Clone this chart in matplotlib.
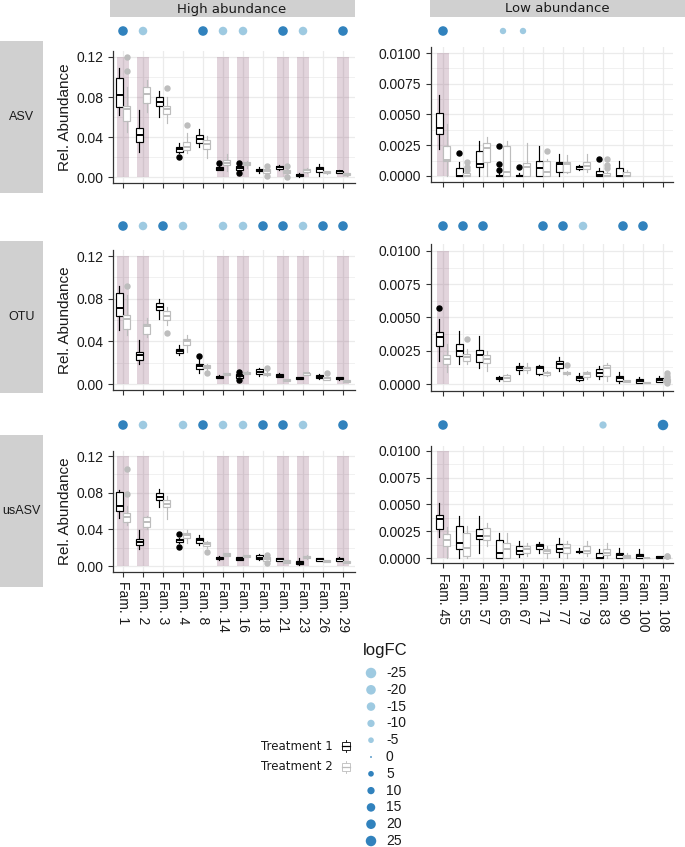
import numpy as np
import matplotlib.pyplot as plt
from matplotlib.patches import Rectangle
from matplotlib.ticker import FormatStrFormatter, MultipleLocator

# Categories
HIGH_FAMS = ["Fam. 1", "Fam. 2", "Fam. 3", "Fam. 4", "Fam. 8", "Fam. 14",
             "Fam. 16", "Fam. 18", "Fam. 21", "Fam. 23", "Fam. 26", "Fam. 29"]
LOW_FAMS = ["Fam. 45", "Fam. 55", "Fam. 57", "Fam. 65", "Fam. 67", "Fam. 71",
            "Fam. 77", "Fam. 79", "Fam. 83", "Fam. 90", "Fam. 100", "Fam. 108"]
ROW_NAMES = ["ASV", "OTU", "usASV"]

# Shaded families (same in every row)
HIGH_SHADED = ["Fam. 1", "Fam. 2", "Fam. 14", "Fam. 16", "Fam. 21", "Fam. 23", "Fam. 29"]
LOW_SHADED = ["Fam. 45"]
HIGH_SHADE_TOP = 0.12
LOW_SHADE_TOP = 0.01

# Box stats: (whisker low, q1, median, q3, whisker high), None = nothing drawn
ASV_HIGH_T1 = [(0.062, 0.070, 0.082, 0.099, 0.109), (0.025, 0.035, 0.042, 0.049, 0.067),
               (0.060, 0.071, 0.075, 0.080, 0.086), (0.024, 0.025, 0.0275, 0.0295, 0.034),
               (0.0295, 0.034, 0.0375, 0.042, 0.048), (0.0070, 0.0074, 0.0084, 0.0100, 0.011),
               (0.0065, 0.0074, 0.009, 0.011, 0.012), (0.004, 0.006, 0.0074, 0.0084, 0.010),
               (0.0075, 0.0084, 0.010, 0.0112, 0.012), (0.0003, 0.0007, 0.0017, 0.0030, 0.0040),
               (0.0007, 0.005, 0.0077, 0.010, 0.0127), (0.004, 0.0045, 0.0057, 0.0062, 0.0068)]
ASV_HIGH_T2 = [(0.045, 0.056, 0.068, 0.071, 0.090), (0.065, 0.074, 0.083, 0.090, 0.097),
               (0.054, 0.063, 0.068, 0.071, 0.080), (0.024, 0.027, 0.030, 0.035, 0.044),
               (0.019, 0.0275, 0.0325, 0.037, 0.041), (0.006, 0.0117, 0.014, 0.017, 0.023),
               (0.009, 0.0117, 0.0134, 0.015, 0.016), (0.003, 0.004, 0.006, 0.0084, 0.0095),
               (0.002, 0.004, 0.005, 0.0074, 0.009), (0.004, 0.005, 0.0067, 0.0084, 0.009),
               (0.0035, 0.004, 0.005, 0.006, 0.0065), (0.0015, 0.0017, 0.0034, 0.004, 0.0045)]
ASV_HIGH_T1_OUT = {"Fam. 4": [0.020], "Fam. 14": [0.014], "Fam. 16": [0.014, 0.004]}
ASV_HIGH_T2_OUT = {"Fam. 1": [0.120, 0.106], "Fam. 3": [0.089], "Fam. 4": [0.052],
                   "Fam. 18": [0.0107, 0.0007], "Fam. 21": [0.0107, 0.0]}

ASV_LOW_T1 = [(0.00216, 0.0034, 0.00386, 0.00516, 0.00657), (0.0, 0.0, 0.0, 0.00068, 0.00116),
              (0.0, 0.00076, 0.001, 0.00205, 0.0028), (0.0, 0.0, 0.0, 0.0001, 0.0002),
              (0.0, 0.0, 0.0, 0.0001, 0.0002), (0.0, 0.0, 0.0006, 0.00124, 0.0024),
              (0.0, 0.0003, 0.001, 0.00116, 0.0018), (0.0005, 0.00054, 0.0007, 0.00084, 0.0009),
              (0.0, 0.0, 0.00008, 0.00043, 0.0006), (0.0, 0.0, 0.0, 0.00068, 0.0012),
              None, None]
ASV_LOW_T2 = [(0.0, 0.00124, 0.0013, 0.00246, 0.0042), (0.0, 0.0, 0.0, 0.0002, 0.0004),
              (0.0, 0.00116, 0.00224, 0.0027, 0.0032), (0.0, 0.0, 0.00035, 0.0024, 0.0028),
              (0.0, 0.0, 0.00076, 0.00108, 0.0027), (0.0, 0.0, 0.0003, 0.00125, 0.0014),
              (0.0002, 0.0003, 0.001, 0.00116, 0.0017), (0.0003, 0.00054, 0.00084, 0.00116, 0.0018),
              (0.0, 0.0, 0.0, 0.0002, 0.0003), (0.0, 0.0, 0.0, 0.00032, 0.0005),
              None, None]
ASV_LOW_T1_OUT = {"Fam. 55": [0.0019], "Fam. 65": [0.00243, 0.00097, 0.0005],
                  "Fam. 67": [0.00076], "Fam. 83": [0.00135]}
ASV_LOW_T2_OUT = {"Fam. 55": [0.00116, 0.00076, 0.0005], "Fam. 71": [0.002],
                  "Fam. 83": [0.0014, 0.0009, 0.0006]}

OTU_HIGH_T1 = [(0.051, 0.064, 0.071, 0.0856, 0.092), (0.019, 0.0225, 0.027, 0.030, 0.041),
               (0.061, 0.069, 0.0725, 0.0756, 0.080), (0.027, 0.029, 0.031, 0.0325, 0.0366),
               (0.0106, 0.014, 0.017, 0.019, 0.023), (0.0055, 0.006, 0.0066, 0.0075, 0.008),
               (0.005, 0.0053, 0.0075, 0.0094, 0.0105), (0.0075, 0.0094, 0.0116, 0.0137, 0.0147),
               (0.0065, 0.007, 0.0078, 0.0094, 0.010), (0.0045, 0.0047, 0.0053, 0.0062, 0.0065),
               (0.005, 0.0053, 0.0069, 0.0084, 0.009), (0.0038, 0.0044, 0.005, 0.0062, 0.0068)]
OTU_HIGH_T2 = [(0.046, 0.052, 0.061, 0.065, 0.083), (0.044, 0.047, 0.054, 0.056, 0.062),
               (0.055, 0.060, 0.064, 0.068, 0.072), (0.030, 0.0366, 0.040, 0.042, 0.046),
               (0.013, 0.0147, 0.016, 0.018, 0.019), (0.008, 0.0084, 0.0094, 0.010, 0.0105),
               (0.0095, 0.0097, 0.0106, 0.0116, 0.012), (0.0075, 0.0084, 0.0094, 0.0106, 0.012),
               (0.0030, 0.0031, 0.0037, 0.0044, 0.0046), (0.0085, 0.0087, 0.010, 0.0106, 0.011),
               (0.0035, 0.0037, 0.0053, 0.0062, 0.007), (0.002, 0.0022, 0.003, 0.0037, 0.004)]
OTU_HIGH_T1_OUT = {"Fam. 8": [0.026], "Fam. 16": [0.0116, 0.0037]}
OTU_HIGH_T2_OUT = {"Fam. 1": [0.092], "Fam. 3": [0.048], "Fam. 8": [0.010],
                   "Fam. 18": [0.0147], "Fam. 26": [0.010]}

OTU_LOW_T1 = [(0.00175, 0.00285, 0.0035, 0.0039, 0.0049), (0.0015, 0.0021, 0.0025, 0.003, 0.004),
              (0.0012, 0.00168, 0.0022, 0.00255, 0.0036), (0.00025, 0.00035, 0.00043, 0.00055, 0.0006),
              (0.00075, 0.00105, 0.0012, 0.00135, 0.0016), (0.0007, 0.00075, 0.0012, 0.00135, 0.0014),
              (0.001, 0.0012, 0.0015, 0.0017, 0.002), (0.0002, 0.0003, 0.00043, 0.0006, 0.0008),
              (0.0004, 0.0006, 0.00085, 0.0011, 0.00135), (0.0001, 0.00025, 0.00043, 0.0006, 0.00093),
              (0.0001, 0.0001, 0.00025, 0.00035, 0.0005), (0.00015, 0.00018, 0.0003, 0.00043, 0.0006)]
OTU_LOW_T2 = [(0.0009, 0.0015, 0.00185, 0.0022, 0.003), (0.0015, 0.00175, 0.002, 0.00225, 0.0026),
              (0.001, 0.00155, 0.00185, 0.0022, 0.0025), (0.0002, 0.00025, 0.00043, 0.0007, 0.00075),
              (0.0008, 0.00105, 0.0012, 0.0013, 0.0016), (0.0006, 0.00068, 0.0008, 0.00093, 0.00095),
              (0.0007, 0.00075, 0.00085, 0.00093, 0.001), (0.0004, 0.0005, 0.00075, 0.00093, 0.001),
              (0.0002, 0.0006, 0.0012, 0.0014, 0.0016), (0.00015, 0.00018, 0.00025, 0.0003, 0.00032),
              (0.00005, 0.00006, 0.0001, 0.00015, 0.00016), (0.0001, 0.00018, 0.00025, 0.00035, 0.0004)]
OTU_LOW_T1_OUT = {"Fam. 45": [0.00568]}
OTU_LOW_T2_OUT = {"Fam. 55": [0.0034], "Fam. 77": [0.0014],
                  "Fam. 108": [0.0008, 0.0006, 0.00043, 0.00005]}

USASV_HIGH_T1 = [(0.052, 0.060, 0.066, 0.081, 0.083), (0.019, 0.023, 0.0265, 0.030, 0.039),
                 (0.0645, 0.072, 0.075, 0.080, 0.0845), (0.025, 0.0265, 0.028, 0.030, 0.031),
                 (0.023, 0.025, 0.028, 0.031, 0.034), (0.007, 0.0073, 0.0083, 0.010, 0.0105),
                 (0.0065, 0.0068, 0.008, 0.0094, 0.0098), (0.0065, 0.0072, 0.009, 0.012, 0.013),
                 (0.0055, 0.0058, 0.0073, 0.0083, 0.0088), (0.0015, 0.0022, 0.0036, 0.0058, 0.0083),
                 (0.0055, 0.0058, 0.0073, 0.0083, 0.0088), (0.005, 0.0058, 0.0073, 0.0083, 0.010)]
USASV_HIGH_T2 = [(0.045, 0.048, 0.054, 0.058, 0.066), (0.040, 0.043, 0.048, 0.053, 0.055),
                 (0.051, 0.064, 0.068, 0.0725, 0.076), (0.025, 0.031, 0.034, 0.036, 0.039),
                 (0.020, 0.022, 0.024, 0.0265, 0.0275), (0.0105, 0.0109, 0.0123, 0.0138, 0.0145),
                 (0.0100, 0.0101, 0.011, 0.012, 0.0125), (0.005, 0.0058, 0.008, 0.0101, 0.011),
                 (0.0030, 0.0036, 0.0047, 0.0065, 0.007), (0.0078, 0.0083, 0.0094, 0.0109, 0.0115),
                 (0.0040, 0.0044, 0.0054, 0.0065, 0.007), (0.0030, 0.0036, 0.0043, 0.0058, 0.006)]
USASV_HIGH_T1_OUT = {"Fam. 4": [0.035, 0.021]}
USASV_HIGH_T2_OUT = {"Fam. 1": [0.106, 0.079], "Fam. 8": [0.0155], "Fam. 18": [0.012, 0.003]}

USASV_LOW_T1 = [(0.002, 0.0027, 0.0036, 0.004, 0.0051), (0.0, 0.00084, 0.0014, 0.003, 0.0039),
                (0.0005, 0.0018, 0.0021, 0.0027, 0.0039), (0.0, 0.0, 0.00047, 0.0017, 0.0023),
                (0.0001, 0.0004, 0.0007, 0.0011, 0.0016), (0.0005, 0.00084, 0.0011, 0.0013, 0.0015),
                (0.0001, 0.0006, 0.00084, 0.0013, 0.0019), (0.0005, 0.00055, 0.0006, 0.0007, 0.0009),
                (0.0, 0.0, 0.0, 0.00047, 0.0008), (0.0, 0.0, 0.0003, 0.0005, 0.0009),
                (0.0, 0.0, 0.00015, 0.0004, 0.0008), (0.0, 0.0, 0.0001, 0.00015, 0.0002)]
USASV_LOW_T2 = [(0.0, 0.0011, 0.0017, 0.0022, 0.0029), (0.0, 0.00015, 0.0009, 0.0023, 0.003),
                (0.0011, 0.0017, 0.0021, 0.0028, 0.0033), (0.0, 0.0, 0.0008, 0.0014, 0.0023),
                (0.00015, 0.0005, 0.0008, 0.0011, 0.0014), (0.0, 0.0005, 0.0007, 0.00084, 0.0011),
                (0.0, 0.0005, 0.0009, 0.0013, 0.0016), (0.00015, 0.0005, 0.0007, 0.0011, 0.0016),
                (0.0, 0.0003, 0.0005, 0.00084, 0.0014), (0.0, 0.0, 0.0001, 0.0003, 0.0005),
                (0.0, 0.0, 0.0, 0.00005, 0.0001), (0.0, 0.0, 0.00005, 0.0001, 0.00015)]
USASV_LOW_T1_OUT = {}
USASV_LOW_T2_OUT = {"Fam. 108": [0.00015, 0.0002]}

# logFC per family (only significant ones are drawn)
ASV_HIGH_LOGFC = {"Fam. 1": 20, "Fam. 2": -15, "Fam. 8": 20, "Fam. 14": -15,
                  "Fam. 16": -15, "Fam. 21": 20, "Fam. 23": -15, "Fam. 29": 20}
ASV_LOW_LOGFC = {"Fam. 45": 20, "Fam. 65": -7, "Fam. 67": -7}
OTU_HIGH_LOGFC = {"Fam. 1": 20, "Fam. 2": -15, "Fam. 3": 20, "Fam. 4": -15, "Fam. 14": -15,
                  "Fam. 16": -15, "Fam. 18": 20, "Fam. 21": 20, "Fam. 23": -15,
                  "Fam. 26": 20, "Fam. 29": 20}
OTU_LOW_LOGFC = {"Fam. 45": 20, "Fam. 55": 20, "Fam. 57": 20, "Fam. 71": 20,
                 "Fam. 77": 20, "Fam. 79": -15, "Fam. 90": 20, "Fam. 100": 20}
USASV_HIGH_LOGFC = {"Fam. 1": 20, "Fam. 2": -15, "Fam. 4": -15, "Fam. 8": 20,
                    "Fam. 14": -15, "Fam. 16": -15, "Fam. 18": 20, "Fam. 21": 20,
                    "Fam. 23": -15, "Fam. 29": 20}
USASV_LOW_LOGFC = {"Fam. 45": 20, "Fam. 83": -10, "Fam. 108": 25}

LEGEND_LOGFC = [-25, -20, -15, -10, -5, 0, 5, 10, 15, 20, 25]
TREATMENTS = ["Treatment 1", "Treatment 2"]

# Styles
T_COLORS = ["black", "#BDBDBD"]
NEG_COLOR = "#9ECAE1"
POS_COLOR = "#3182BD"
SHADE_COLOR = "#6E2850"
STRIP_COLOR = "#D0D0D0"
GRID_COLOR = "#EBEBEB"

W, H = 685, 847
plt.rcParams['font.family'] = ['Liberation Sans', 'DejaVu Sans']
fig = plt.figure(figsize=(W / 100, H / 100), dpi=100)


def px_axes(x0, y0, x1, y1, **kw):
    return fig.add_axes([x0 / W, 1 - y1 / H, (x1 - x0) / W, (y1 - y0) / H], **kw)


def dot_size(v):
    d_px = 10.5 * (1 + 5 * np.sqrt(abs(v) / 25)) / 6
    return (d_px * 0.72) ** 2


# overlay for strips and legend, in pixel coordinates
ov = px_axes(0, 0, W, H, zorder=-1)
ov.set_xlim(0, W)
ov.set_ylim(H, 0)
ov.axis('off')

ov.add_patch(Rectangle((110, 0), 245, 17, color=STRIP_COLOR, lw=0))
ov.add_patch(Rectangle((430, 0), 255, 17, color=STRIP_COLOR, lw=0))
ov.text(232, 9, "High abundance", ha='center', va='center', fontsize=9.5,
        family='DejaVu Sans', color='#1A1A1A')
ov.text(557, 9, "Low abundance", ha='center', va='center', fontsize=9.5,
        family='DejaVu Sans', color='#1A1A1A')

rows = [
    dict(name="ASV", strip=(41, 193), dot_y=31,
         left=(113, 51, 355, 183), right=(431, 47, 673, 182),
         high=(ASV_HIGH_T1, ASV_HIGH_T2, ASV_HIGH_T1_OUT, ASV_HIGH_T2_OUT, ASV_HIGH_LOGFC),
         low=(ASV_LOW_T1, ASV_LOW_T2, ASV_LOW_T1_OUT, ASV_LOW_T2_OUT, ASV_LOW_LOGFC)),
    dict(name="OTU", strip=(241, 393), dot_y=226,
         left=(113, 249.6, 355, 390.4), right=(431, 244.3, 673, 390.7),
         high=(OTU_HIGH_T1, OTU_HIGH_T2, OTU_HIGH_T1_OUT, OTU_HIGH_T2_OUT, OTU_HIGH_LOGFC),
         low=(OTU_LOW_T1, OTU_LOW_T2, OTU_LOW_T1_OUT, OTU_LOW_T2_OUT, OTU_LOW_LOGFC)),
    dict(name="usASV", strip=(435, 587), dot_y=425,
         left=(113, 450.5, 355, 571.5), right=(431, 445.6, 673, 563.4),
         high=(USASV_HIGH_T1, USASV_HIGH_T2, USASV_HIGH_T1_OUT, USASV_HIGH_T2_OUT, USASV_HIGH_LOGFC),
         low=(USASV_LOW_T1, USASV_LOW_T2, USASV_LOW_T1_OUT, USASV_LOW_T2_OUT, USASV_LOW_LOGFC)),
]


def draw_boxes(ax, fams, stats, outliers, offset, color):
    data, pos = [], []
    for i, s in enumerate(stats):
        if s is None:
            continue
        lo, q1, med, q3, hi = s
        data.append(dict(whislo=lo, q1=q1, med=med, q3=q3, whishi=hi,
                         fliers=outliers.get(fams[i], [])))
        pos.append(i + 1 + offset)
    ax.bxp(data, positions=pos, widths=0.36, showcaps=False, patch_artist=True,
           boxprops=dict(facecolor='white', edgecolor=color, linewidth=0.85),
           medianprops=dict(color=color, linewidth=1.4),
           whiskerprops=dict(color=color, linewidth=0.85),
           flierprops=dict(marker='o', markerfacecolor=color, markeredgecolor=color,
                           markersize=3.6),
           zorder=3)


for r, row in enumerate(rows):
    y0, y1 = row['strip']
    ov.add_patch(Rectangle((0, y0), 43, y1 - y0, color=STRIP_COLOR, lw=0))
    ov.text(21.5, (y0 + y1) / 2, row['name'], ha='center', va='center',
            fontsize=9, color='#1A1A1A')

    for side in ('high', 'low'):
        fams = HIGH_FAMS if side == 'high' else LOW_FAMS
        shaded = HIGH_SHADED if side == 'high' else LOW_SHADED
        top = HIGH_SHADE_TOP if side == 'high' else LOW_SHADE_TOP
        box = row['left'] if side == 'high' else row['right']
        xlim = (0.5, 12.6) if side == 'high' else (0.4, 12.5)
        t1, t2, o1, o2, lfc = row[side]

        ax = px_axes(*box)
        ax.set_xlim(*xlim)
        x = np.arange(1, len(fams) + 1)

        sx = [fams.index(f) + 1 for f in shaded]
        ax.bar(sx, [top] * len(sx), width=0.6, color=SHADE_COLOR, alpha=0.2,
               lw=0, zorder=1)
        draw_boxes(ax, fams, t1, o1, -0.19, T_COLORS[0])
        draw_boxes(ax, fams, t2, o2, 0.19, T_COLORS[1])

        if side == 'high':
            ax.set_ylim(-0.006, 0.126)
            ax.yaxis.set_major_locator(MultipleLocator(0.04))
            ax.yaxis.set_minor_locator(MultipleLocator(0.02))
            ax.yaxis.set_major_formatter(FormatStrFormatter('%.2f'))
            ax.set_ylabel("Rel. Abundance", fontsize=11, labelpad=3, color='#1A1A1A')
        else:
            ax.set_ylim(-0.0005, 0.0105)
            ax.yaxis.set_major_locator(MultipleLocator(0.0025))
            ax.yaxis.set_minor_locator(MultipleLocator(0.00125))
            ax.yaxis.set_major_formatter(FormatStrFormatter('%.4f'))

        ax.set_xticks(x)
        if r == len(rows) - 1:
            ax.set_xticklabels(fams, rotation=270, ha='center', va='top', fontsize=10,
                               color='#1A1A1A')
        else:
            ax.set_xticklabels([])
        ax.tick_params(axis='y', labelsize=10, labelcolor='#1A1A1A')
        ax.tick_params(which='major', length=3.5, width=0.8, color='#333333')
        ax.tick_params(which='minor', length=0)
        ax.set_axisbelow(True)
        ax.grid(which='major', color=GRID_COLOR, lw=0.9)
        ax.grid(which='minor', axis='y', color=GRID_COLOR, lw=0.5)
        for s in ('top', 'right'):
            ax.spines[s].set_visible(False)
        for s in ('left', 'bottom'):
            ax.spines[s].set_color('#333333')
            ax.spines[s].set_linewidth(0.9)

        # logFC dots above the panel
        dax = px_axes(box[0], row['dot_y'] - 8, box[2], row['dot_y'] + 8)
        dax.set_xlim(*xlim)
        dax.set_ylim(-1, 1)
        dax.axis('off')
        dx = [fams.index(f) + 1 for f in lfc]
        dv = list(lfc.values())
        dax.scatter(dx, [0] * len(dx), s=[dot_size(v) for v in dv],
                    c=[POS_COLOR if v > 0 else NEG_COLOR for v in dv],
                    lw=0, clip_on=False)

# logFC legend
ov.text(363, 651, "logFC", ha='left', va='center', fontsize=12, color='#1A1A1A')
ly = 673 + 16.8 * np.arange(len(LEGEND_LOGFC))
ov.scatter([371] * len(LEGEND_LOGFC), ly, s=[dot_size(v) for v in LEGEND_LOGFC],
           c=[POS_COLOR if v >= 0 else NEG_COLOR for v in LEGEND_LOGFC], lw=0)
for v, yy in zip(LEGEND_LOGFC, ly):
    ov.text(386, yy, str(v), ha='left', va='center', fontsize=10, color='#1A1A1A')

# treatment legend
for i, (name, col) in enumerate(zip(TREATMENTS, T_COLORS)):
    yy = 746 + 21 * i
    ov.text(333, yy, name, ha='right', va='center', fontsize=8.5,
            family='DejaVu Sans', color='#1A1A1A')
    ov.plot([346, 346], [yy - 6, yy + 6], color=col, lw=0.6)
    ov.add_patch(Rectangle((342, yy - 4), 8, 8, facecolor='white', edgecolor=col,
                           lw=0.6, zorder=3))
    ov.plot([342, 350], [yy, yy], color=col, lw=0.9, zorder=4)

fig.savefig("out.png", dpi=100)
